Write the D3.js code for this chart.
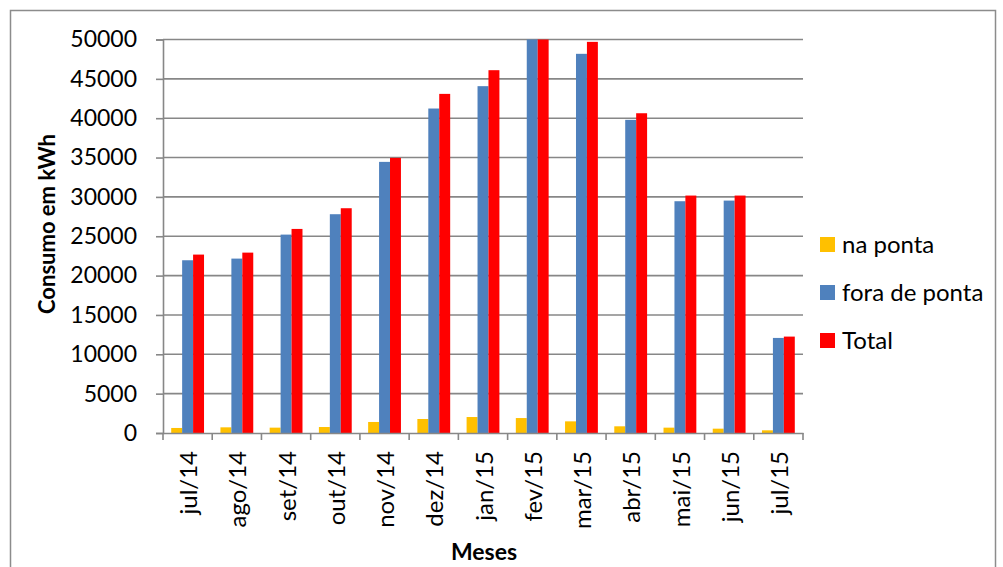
<!DOCTYPE html>
<html>
<head>
<meta charset="utf-8">
<script src="https://cdn.jsdelivr.net/npm/d3@7"></script>
<style>
  html, body { margin: 0; padding: 0; background: #fff; }
  svg { display: block; }
  text { font-family: Lato, "Open Sans", sans-serif; fill: #000; }
</style>
</head>
<body>
<svg id="chart" width="1003" height="567"></svg>
<script>
// Monthly consumption (kWh)
const months = ["jul/14","ago/14","set/14","out/14","nov/14","dez/14","jan/15","fev/15","mar/15","abr/15","mai/15","jun/15","jul/15"];
const naPonta   = [640, 720, 680, 760, 1400, 1780, 2030, 1900, 1480, 850, 680, 550, 340];
const foraPonta = [21950, 22160, 25210, 27800, 34450, 41230, 44070, 50200, 48180, 39790, 29450, 29530, 12080];
const total     = [22670, 22920, 25930, 28560, 34960, 43090, 46100, 52100, 49700, 40630, 30170, 30170, 12250];
const seriesNames = ["na ponta", "fora de ponta", "Total"];
const seriesColors = ["#FFC000", "#4F81BD", "#FF0000"];
const yTicks = [0, 5000, 10000, 15000, 20000, 25000, 30000, 35000, 40000, 45000, 50000];

const svg = d3.select("#chart");
const W = 1003, H = 567;
const plot = { left: 163, right: 803, top: 39.5, bottom: 433 };
const FONT = "Lato, 'Open Sans', sans-serif";

// outer frame
svg.append("rect")
  .attr("x", 10.5).attr("y", 10.5)
  .attr("width", 985).attr("height", H + 10)
  .attr("fill", "none").attr("stroke", "#8c8c8c").attr("stroke-width", 1.5);

const x0 = d3.scaleBand().domain(months).range([plot.left, plot.right]).paddingInner(0).paddingOuter(0);
// gap width 150%: three bars take 3/4.5 of each category
const barW = x0.bandwidth() / 4.5;
const x1 = d3.scaleBand().domain(seriesNames).range([0, barW * 3]);
const y = d3.scaleLinear().domain([0, 50000]).range([plot.bottom, plot.top]).clamp(true);

// horizontal gridlines
svg.append("g").selectAll("line").data(yTicks.filter(d => d > 0)).join("line")
  .attr("x1", plot.left).attr("x2", plot.right)
  .attr("y1", d => y(d)).attr("y2", d => y(d))
  .attr("stroke", "#878787").attr("stroke-width", 1.6);

// bars
const rows = months.map((m, i) => ({ m, vals: [naPonta[i], foraPonta[i], total[i]] }));
const groups = svg.append("g").selectAll("g").data(rows).join("g")
  .attr("transform", d => `translate(${x0(d.m) + barW * 0.75},0)`);
groups.selectAll("rect").data(d => d.vals.map((v, k) => ({ v, k }))).join("rect")
  .attr("x", d => x1(seriesNames[d.k]))
  .attr("width", barW)
  .attr("y", d => y(d.v))
  .attr("height", d => plot.bottom - y(d.v))
  .attr("fill", d => seriesColors[d.k]);

// y axis
const yAxis = svg.append("g").attr("transform", `translate(${plot.left},0)`)
  .call(d3.axisLeft(y).tickValues(yTicks).tickSize(7).tickPadding(19).tickFormat(d3.format("d")));
yAxis.select(".domain").attr("stroke", "#878787").attr("stroke-width", 1.6);
yAxis.selectAll(".tick line").attr("stroke", "#878787").attr("stroke-width", 1.6);
yAxis.selectAll("text").style("font-size", "23px").style("font-family", FONT).attr("fill", "#000");

// x axis
const xAxis = svg.append("g").attr("transform", `translate(0,${plot.bottom})`)
  .call(d3.axisBottom(x0).tickSize(0).tickPadding(0));
xAxis.select(".domain").attr("stroke", "#878787").attr("stroke-width", 1.6);
// category boundary ticks
svg.append("g").selectAll("line").data(d3.range(months.length + 1)).join("line")
  .attr("x1", i => plot.left + i * x0.bandwidth()).attr("x2", i => plot.left + i * x0.bandwidth())
  .attr("y1", plot.bottom).attr("y2", plot.bottom + 7)
  .attr("stroke", "#878787").attr("stroke-width", 1.6);
xAxis.selectAll(".tick text")
  .style("font-size", "24px").style("font-family", FONT).attr("fill", "#000")
  .attr("text-anchor", "end")
  .attr("transform", "translate(1,18) rotate(-90)")
  .attr("y", 0).attr("x", 0).attr("dy", "0.36em");

// axis titles
svg.append("text")
  .attr("transform", "translate(55,224) rotate(-90)")
  .attr("text-anchor", "middle")
  .style("font-size", "22px").style("font-weight", "bold")
  .text("Consumo em kWh");
svg.append("text")
  .attr("x", 484).attr("y", 560)
  .attr("text-anchor", "middle")
  .style("font-size", "23px").style("font-weight", "bold")
  .text("Meses");

// legend
const leg = svg.append("g").selectAll("g").data(seriesNames).join("g")
  .attr("transform", (d, i) => `translate(820,${237 + i * 48})`);
leg.append("rect").attr("width", 15).attr("height", 15).attr("fill", (d, i) => seriesColors[i]);
leg.append("text").attr("x", 22).attr("y", 16).style("font-size", "24px").text(d => d);
</script>
</body>
</html>
